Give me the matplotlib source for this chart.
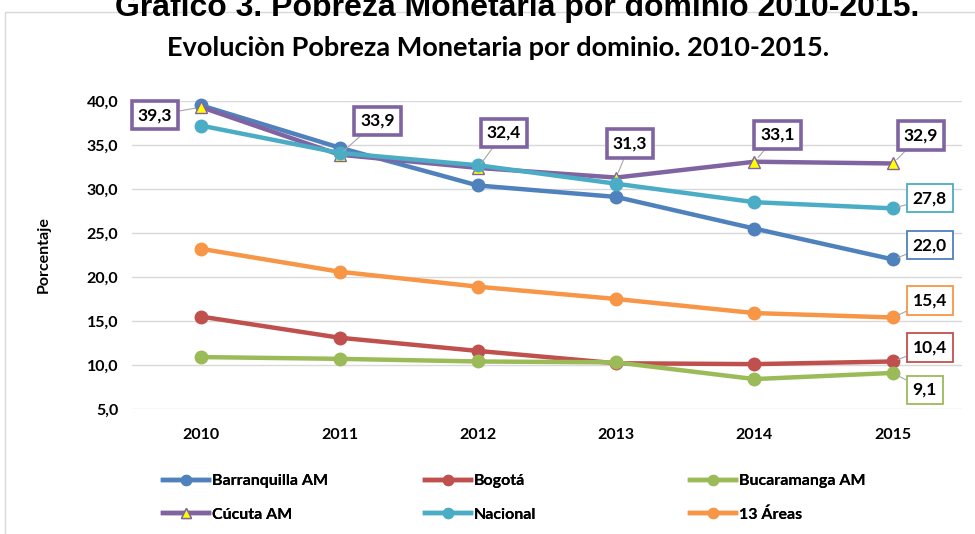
import matplotlib.pyplot as plt
from matplotlib.patches import Rectangle

plt.rcParams['font.family'] = ['Lato', 'DejaVu Sans']

years = ['2010', '2011', '2012', '2013', '2014', '2015']
barranquilla = [39.5, 34.7, 30.4, 29.1, 25.5, 22.0]
bogota = [15.5, 13.1, 11.6, 10.2, 10.1, 10.4]
bucaramanga = [10.9, 10.7, 10.4, 10.3, 8.4, 9.1]
cucuta = [39.3, 33.9, 32.4, 31.3, 33.1, 32.9]
nacional = [37.2, 34.1, 32.7, 30.6, 28.5, 27.8]
areas13 = [23.2, 20.6, 18.9, 17.5, 15.9, 15.4]
y_ticks = [5, 10, 15, 20, 25, 30, 35, 40]

series = [
    ('Barranquilla AM', barranquilla, '#4F81BD'),
    ('Bogotá', bogota, '#C0504D'),
    ('Bucaramanga AM', bucaramanga, '#9BBB59'),
    ('Cúcuta AM', cucuta, '#8064A2'),
    ('Nacional', nacional, '#4BACC6'),
    ('13 Áreas', areas13, '#F79646'),
]

fig = plt.figure(figsize=(9.75, 5.34), dpi=100)

# outer chart frame and the cut-off caption above it
fig.patches.append(Rectangle((5 / 975, -0.01), 1.0, 1 - 12 / 534 + 0.01, transform=fig.transFigure,
                             facecolor='none', edgecolor='#D9D9D9', lw=1))
fig.text(0.53, 0.97, 'Gráfico 3. Pobreza Monetaria por dominio 2010-2015.',
         family='Liberation Sans', weight='bold', fontsize=23, ha='center', va='baseline')
fig.text(0.511, 0.91, 'Evoluciòn Pobreza Monetaria por dominio. 2010-2015.',
         weight='bold', fontsize=19.5, ha='center', va='center')

ax = fig.add_axes([132 / 975, 1 - 409 / 534, 830 / 975, 308 / 534])
x = list(range(len(years)))

handles = {}
for name, vals, col in series:
    if name == 'Cúcuta AM':
        h, = ax.plot(x, vals, color=col, lw=3.2, marker='^', ms=9, mfc='#FFFF00',
                     mec=col, mew=1, clip_on=False, zorder=3, label=name)
    else:
        h, = ax.plot(x, vals, color=col, lw=3.2, marker='o', ms=9, mfc=col,
                     mec=col, clip_on=False, zorder=3, label=name)
    handles[name] = h

ax.set_xlim(-0.5, 5.5)
ax.set_ylim(5, 40)
ax.set_yticks(y_ticks)
ax.set_yticklabels([f'{v:.1f}'.replace('.', ',') for v in y_ticks])
ax.set_xticks(x)
ax.set_xticklabels(years)
ax.tick_params(axis='x', length=0, labelsize=11.5, pad=14)
ax.tick_params(axis='y', length=0, labelsize=11.5, pad=10)
for lab in ax.get_xticklabels() + ax.get_yticklabels():
    lab.set_fontweight('bold')
ax.grid(axis='y', color='#D9D9D9', lw=1)
ax.set_axisbelow(True)
for s in ax.spines.values():
    s.set_visible(False)
ax.set_ylabel('Porcentaje', fontsize=11.5, weight='bold', labelpad=26)


def label(i, vals, col, dx, dy, lw):
    ax.annotate(f'{vals[i]:.1f}'.replace('.', ','), xy=(x[i], vals[i]),
                xytext=(dx, dy), textcoords='offset pixels', ha='center', va='center',
                fontsize=12.5, weight='bold', zorder=5,
                bbox=dict(boxstyle='square,pad=0.35', fc='white', ec=col, lw=lw),
                arrowprops=dict(arrowstyle='-', color='#A6A6A6', lw=0.8,
                                shrinkA=0, shrinkB=4))


cuc_offsets = [(-46, -8), (38, 34), (26, 35), (14, 34), (23, 27), (28, 28)]
for i, (dx, dy) in enumerate(cuc_offsets):
    label(i, cucuta, '#8064A2', dx, dy, 2.6)

label(5, nacional, '#4BACC6', 37, 10, 1.3)
label(5, barranquilla, '#4F81BD', 37, 14, 1.3)
label(5, areas13, '#F79646', 37, 17, 1.3)
label(5, bogota, '#C0504D', 37, 14, 1.3)
label(5, bucaramanga, '#9BBB59', 32, -17, 1.3)

# legend: three columns placed one by one
columns = [['Barranquilla AM', 'Cúcuta AM'], ['Bogotá', 'Nacional'], ['Bucaramanga AM', '13 Áreas']]
col_x = [163, 425, 690]
for names, cx in zip(columns, col_x):
    leg = fig.legend([handles[n] for n in names], names, loc='center left',
                     bbox_to_anchor=(cx / 975, 1 - 498 / 534), frameon=False,
                     prop=dict(weight='bold', size=11.5), handlelength=2.9,
                     handletextpad=0.15, labelspacing=1.2, markerscale=0.8,
                     borderpad=0, borderaxespad=0)
    fig.add_artist(leg)

fig.savefig('out.png', dpi=100)
